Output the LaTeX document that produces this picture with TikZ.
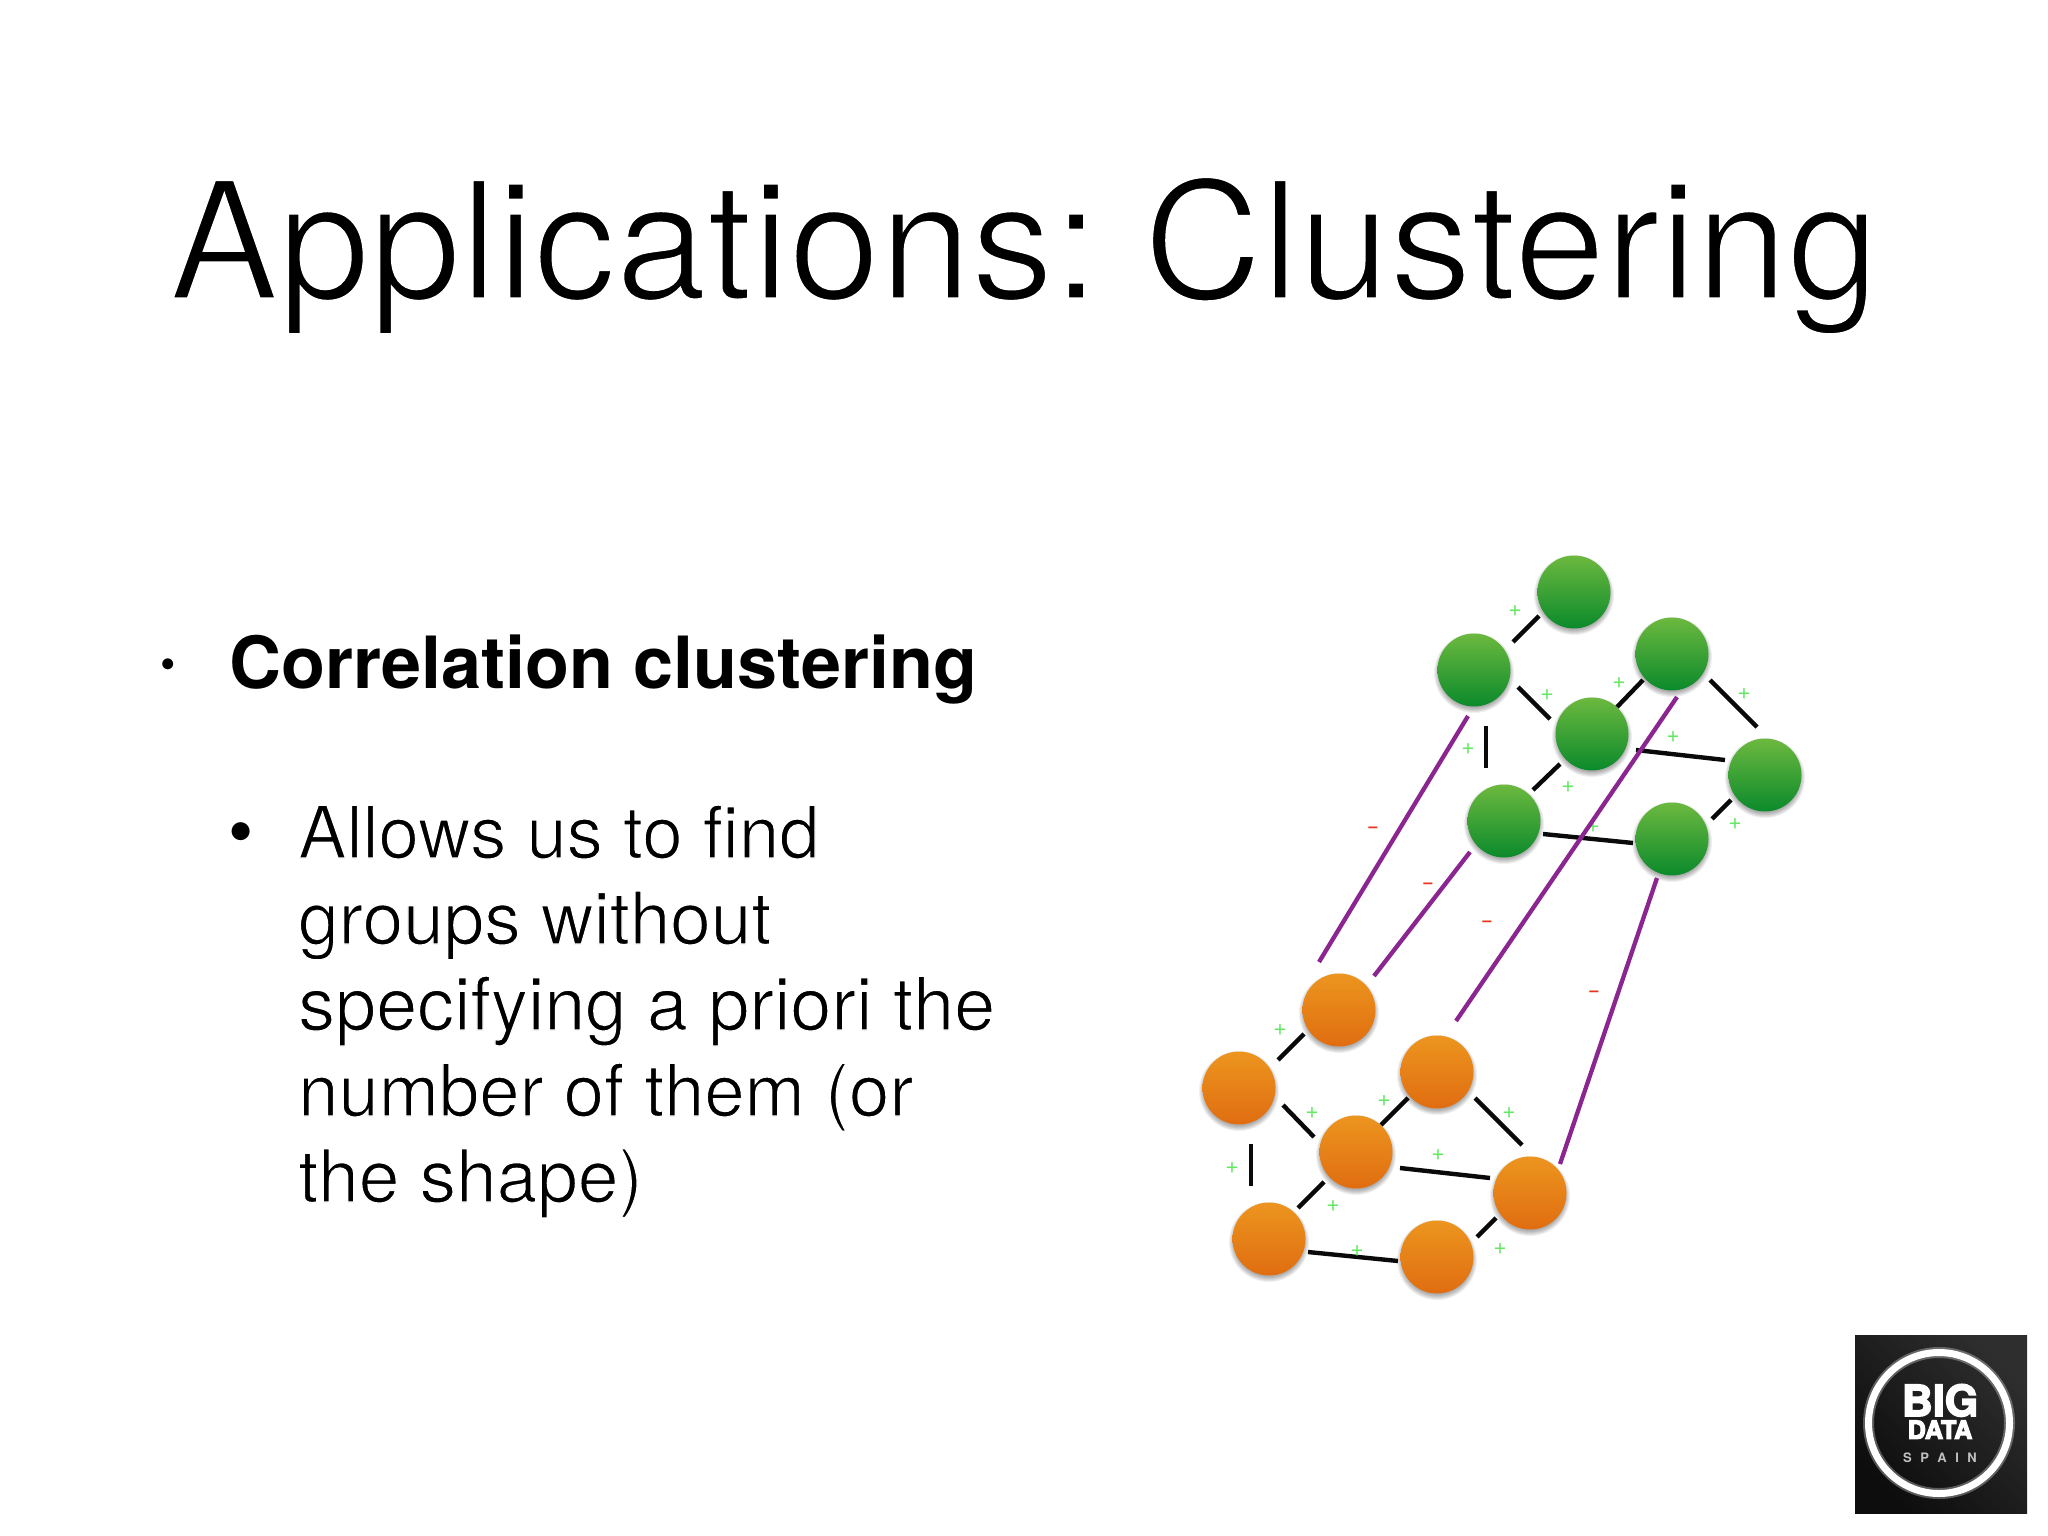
\documentclass[tikz,border=0pt]{standalone}
\usepackage{fontspec}
\usepackage{graphicx}
\setmainfont{TeX Gyre Heros}
\usetikzlibrary{calc}
\newcommand{\thinon}[1]{\special{pdf:code q 2 Tr 1 1 1 RG #1 w}}
\newcommand{\fatton}[1]{\special{pdf:code q 2 Tr 1 1 1 RG #1 w}}
\newcommand{\thinoff}{\special{pdf:code Q}}
\definecolor{bk}{HTML}{0A0A0A}
\definecolor{plusc}{HTML}{66E866}
\definecolor{minusc}{HTML}{E8341C}
\definecolor{purp}{HTML}{8B2590}
\definecolor{gtop}{HTML}{6CB93F}
\definecolor{gbot}{HTML}{0B8A2B}
\definecolor{otop}{HTML}{EC951F}
\definecolor{obot}{HTML}{E06D10}
\tikzset{
  ball/.style={circle,inner sep=0pt,minimum size=73pt,line width=0pt},
  greenball/.style={ball,top color=gtop,bottom color=gbot},
  orangeball/.style={ball,top color=otop,bottom color=obot},
  edge/.style={line width=4.4pt,draw=bk},
  cross/.style={line width=4.3pt,draw=purp},
  plus/.style={inner sep=0pt,text=plusc,font=\fontsize{23}{23}\selectfont},
  minus/.style={inner sep=0pt,text=minusc,font=\fontsize{24}{24}\selectfont},
  txt/.style={inner sep=0pt,anchor=base west,text=black},
}
\newcommand{\ballat}[4]{%
  \foreach \r in {40,39,38,37,36,35}{\fill[black,opacity=0.06] (#3,#4+3) circle[radius=\r pt];}
  \node[#1] (#2) at (#3,#4) {};}
% the same nine edges for each cluster, ends given relative to the node centres
\newcommand{\clusteredges}[1]{%
  \draw[edge] ($(#11)+(-35,24)$) -- ($(#12)+(39,-28)$);
  \draw[edge] ($(#12)+(44,17)$) -- ($(#14)+(-42,-15)$);
  \draw[edge] ($(#12)+(12,56)$) -- ($(#16)+(-18,-53)$);
  \draw[edge] ($(#13)+(-29,26)$) -- ($(#14)+(25,-27)$);
  \draw[edge] ($(#13)+(38,26)$) -- ($(#15)+(-8,-48)$);
  \draw[edge] ($(#14)+(44,16)$) -- ($(#15)+(-40,-15)$);
  \draw[edge] ($(#14)+(-32,30)$) -- ($(#16)+(29,-31)$);
  \draw[edge] ($(#16)+(39,13)$) -- ($(#17)+(-39,4)$);
  \draw[edge] ($(#15)+(-34,25)$) -- ($(#17)+(40,-20)$);
}
\begin{document}
\begin{tikzpicture}[x=1pt,y=-1pt]
\useasboundingbox (0,0) rectangle (2048,1536);
\fill[white] (0,0) rectangle (2048,1536);

\node[txt] (title) at (169,299) {\fontsize{164}{164}\selectfont\thinon{3.2}Applications:\hspace{-16pt} Clustering\thinoff};
\node[txt] (b1) at (160,679) {\fontsize{44}{44}\selectfont •};
\node[txt] (h1) at (229,688) {\fontsize{72}{72}\selectfont\bfseries Correlation clustering};
\node[txt] (b2) at (228,856) {\fontsize{72}{72}\selectfont •};
\node[txt] (l1) at (298,858) {\fontsize{72.4}{72.4}\selectfont\thinon{1.3}Allows us to find\thinoff};
\node[txt] (l2) at (298,944) {\fontsize{72.9}{72.9}\selectfont\thinon{1.3}groups without\thinoff};
\node[txt] (l3) at (298,1030) {\fontsize{73.8}{73.8}\selectfont\thinon{1.3}specifying a priori the\thinoff};
\node[txt] (l4) at (298,1116) {\fontsize{72.4}{72.4}\selectfont\thinon{1.3}number of them (or\thinoff};
\node[txt] (l5) at (298,1202) {\fontsize{73}{73}\selectfont\thinon{1.3}the shape)\thinoff};

% green cluster
\ballat{greenball}{g1}{1574}{592}
\ballat{greenball}{g2}{1474}{670}
\ballat{greenball}{g3}{1672}{654}
\ballat{greenball}{g4}{1592}{734}
\ballat{greenball}{g5}{1765}{775}
\ballat{greenball}{g6}{1504}{821}
\ballat{greenball}{g7}{1672}{839}
% orange cluster
\ballat{orangeball}{o1}{1339}{1010}
\ballat{orangeball}{o2}{1239}{1088}
\ballat{orangeball}{o3}{1437}{1072}
\ballat{orangeball}{o4}{1356}{1152}
\ballat{orangeball}{o5}{1530}{1193}
\ballat{orangeball}{o6}{1269}{1239}
\ballat{orangeball}{o7}{1437}{1257}

\clusteredges{g}
\clusteredges{o}

% plus labels
\foreach \n/\x/\y in {pa/1515/611,pb/1547/695,pc/1619/683,pd/1744/694,pe/1468/749,pf/1673/737,pg/1568/787,ph/1735/824,pi/1593/827,
  qa/1280/1030,qb/1312/1113,qc/1384/1101,qd/1509/1113,qe/1232/1168,qf/1438/1155,qg/1333/1206,qh/1357/1251,qi/1500/1249}
  {\node[plus] (\n) at (\x,\y) {+};}

% minus labels
\foreach \n/\x/\y in {ma/1373/831,mb/1428/887,mc/1487/925,md/1594/995}
  {\node[minus] (\n) at (\x,\y) {\scalebox{1.6}[1]{-}};}

% correlations between clusters
\draw[cross] ($(g2)+(-6,46)$) -- ($(o1)+(-20,-48)$);
\draw[cross] ($(g6)+(-34,31)$) -- ($(o1)+(35,-34)$);
\draw[cross] ($(g3)+(5,43)$) -- ($(o3)+(19,-51)$);
\draw[cross] ($(g7)+(-15,39)$) -- ($(o5)+(30,-29)$);

% logo
\shade[left color=black!95,right color=black!82,shading angle=135] (1855,1335) rectangle (2027,1513);
\node[circle,draw=white,draw opacity=0.3,line width=11pt,minimum size=141pt,inner sep=0pt] (glow) at (1939,1423) {};
\node[circle,draw=white,line width=7pt,minimum size=141pt,inner sep=0pt] (ring) at (1939,1423) {};
\node[inner sep=0pt,text=white,anchor=north] (logotext) at (1940,1384) {\vbox{\offinterlineskip
  \hbox to 100pt{\hss\fontsize{43}{43}\selectfont\bfseries\fatton{1.5}BIG\thinoff\hss}\kern 4pt
  \hbox to 100pt{\hss\fontsize{25}{25}\selectfont\bfseries\fatton{1.2}DATA\thinoff\hss}\kern 14pt
  \hbox to 100pt{\hss\color{black!25}\fontsize{13}{13}\selectfont\bfseries S\hspace{8.5pt}P\hspace{8.5pt}A\hspace{8.5pt}I\hspace{8.5pt}N\hss}}};
\end{tikzpicture}
\end{document}
